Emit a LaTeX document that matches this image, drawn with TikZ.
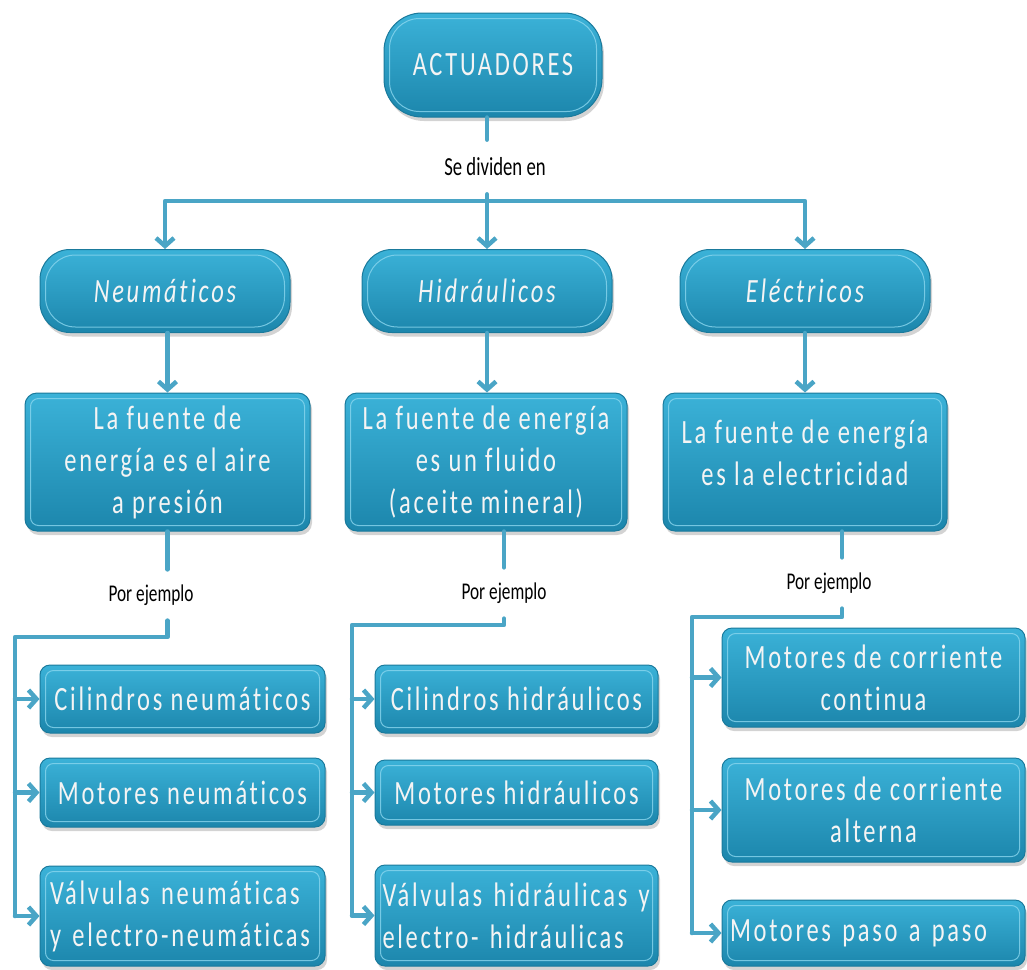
\documentclass[tikz,border=0pt]{standalone}
\usepackage{fontspec}
\setmainfont{Carlito}
\newfontfamily\boxfont[FakeStretch=0.72, LetterSpace=8, Ligatures={NoCommon}]{Carlito}
\newfontfamily\labfont[FakeStretch=0.72, Ligatures={NoCommon}]{Carlito}
\usetikzlibrary{positioning, shadows, arrows.meta}

\definecolor{boxtop}{HTML}{3BB2D8}
\definecolor{boxbot}{HTML}{1C86AC}
\definecolor{boxedge}{HTML}{1A7A9C}
\definecolor{gloss}{HTML}{8AD6EE}
\definecolor{link}{HTML}{4AA5C6}
\definecolor{boxtext}{HTML}{F4F4F4}

\tikzset{
  basebox/.style={draw=boxedge, line width=1pt, top color=boxtop, bottom color=boxbot,
    text=boxtext, align=center, inner sep=0pt,
    drop shadow={shadow xshift=2pt, shadow yshift=-4pt, opacity=.35}},
  capsule/.style={basebox, rounded corners=38pt, font=\boxfont\fontsize{34}{42}\selectfont},
  catbox/.style={basebox, rounded corners=30pt, minimum width=250pt, minimum height=83pt,
    font=\boxfont\itshape\fontsize{34}{42}\selectfont},
  srcbox/.style={basebox, rounded corners=12pt, minimum height=138pt,
    font=\boxfont\fontsize{34}{42}\selectfont},
  itembox/.style={basebox, rounded corners=10pt, font=\boxfont\fontsize{34}{42}\selectfont},
  leftitem/.style={itembox, align=left},
  plab/.style={font=\labfont\fontsize{24}{28}\selectfont, inner xsep=2pt, inner ysep=15pt},
  link/.style={draw=link, line width=4.5pt, line join=round, line cap=round},
  arr/.style={link, -{Straight Barb[length=8pt, width=18pt]}},
  glossy/.style={draw=gloss, line width=1pt, opacity=.8}
}

\begin{document}
\begin{tikzpicture}[x=1pt, y=-1pt]
    \useasboundingbox (0,0) rectangle (1027,969);

    % Root
    \node[capsule, minimum width=218pt, minimum height=104pt] (act) at (493,65) {ACTUADORES};
    \node[plab, font=\labfont\fontsize{26}{30}\selectfont, inner ysep=18pt] (div) at (495,167) {Se dividen en};

    % Kinds of actuator
    \node[catbox] (neu) at (165,291) {Neumáticos};
    \node[catbox] (hid) at (487,291) {Hidráulicos};
    \node[catbox] (ele) at (805,291) {Eléctricos};

    % Energy source
    \node[srcbox, minimum width=285pt] (fn1) at (167.5,462) {La fuente de\\energía es el aire\\a presión};
    \node[srcbox, minimum width=282pt] (fn2) at (486,462) {La fuente de energía\\es un fluido\\(aceite mineral)};
    \node[srcbox, minimum width=284pt] (fn3) at (805,462) {La fuente de energía\\es la electricidad\\[-24pt]};

    \node[plab] (ej1) at (151,595) {Por ejemplo};
    \node[plab] (ej2) at (504,593) {Por ejemplo};
    \node[plab] (ej3) at (829,583) {Por ejemplo};

    % Examples, pneumatic
    \node[itembox, minimum width=285pt, minimum height=68pt] (cn) at (182.5,699) {Cilindros neumáticos};
    \node[itembox, minimum width=285pt, minimum height=69pt] (mn) at (182.5,792.5) {Motores neumáticos};
    \node[leftitem, minimum width=285pt, text width=265pt, minimum height=100pt] (vn) at (182.5,916) {Válvulas neumáticas\\y electro-neumáticas};

    % Examples, hydraulic
    \node[itembox, minimum width=283pt, minimum height=68pt] (ch) at (516.5,699) {Cilindros hidráulicos};
    \node[itembox, minimum width=283pt, minimum height=65pt] (mh) at (516.5,792.5) {Motores hidráulicos};
    \node[leftitem, minimum width=283pt, text width=268pt, minimum height=101pt] (vh) at (516.5,915.5) {Válvulas hidráulicas~y\\electro- hidráulicas};

    % Examples, electric
    \node[itembox, minimum width=303pt, minimum height=99pt] (mc) at (873.5,677.5) {Motores de corriente\\continua};
    \node[itembox, minimum width=303pt, minimum height=104pt] (ma) at (873.5,810) {Motores de corriente\\alterna};
    \node[leftitem, minimum width=303pt, text width=287pt, minimum height=66pt] (mp) at (873.5,933) {Motores paso a paso};

    % Inner highlight
    \foreach \n in {act,neu,hid,ele}
        \draw[glossy, rounded corners=30pt] ([shift={(6pt,-6pt)}]\n.north west) rectangle ([shift={(-6pt,6pt)}]\n.south east);
    \foreach \n in {fn1,fn2,fn3,cn,mn,vn,ch,mh,vh,mc,ma,mp}
        \draw[glossy, rounded corners=8pt] ([shift={(6pt,-6pt)}]\n.north west) rectangle ([shift={(-6pt,6pt)}]\n.south east);

    % Top split
    \coordinate (bar) at (487,201);
    \draw[link] (hid |- act.south) -- (hid |- div.north);
    \draw[arr] (hid |- div.south) -- (hid.north);
    \draw[arr] (bar) -| (neu.north);
    \draw[arr] (bar) -| (ele.north);

    % Kind to source
    \draw[arr] (neu.south -| fn1) -- (fn1.north);
    \draw[arr] (hid.south) -- (hid.south |- fn2.north);
    \draw[arr] (ele.south) -- (fn3.north);

    % Pneumatic branch
    \coordinate (t1) at (15,637);
    \draw[link] (fn1.south) -- (fn1.south |- ej1.north);
    \draw[link] (fn1.south |- ej1.south) |- (t1) -- (t1 |- vn.west);
    \foreach \n in {cn,mn,vn}
        \draw[arr] (t1 |- \n.west) -- (\n.west);

    % Hydraulic branch
    \coordinate (t2) at (352,625);
    \draw[link] (ej2 |- fn2.south) -- (ej2.north);
    \draw[link] (ej2.south) |- (t2) -- (t2 |- vh.west);
    \foreach \n in {ch,mh,vh}
        \draw[arr] (t2 |- \n.west) -- (\n.west);

    % Electric branch
    \coordinate (s3) at (842,617);
    \coordinate (t3) at (692,617);
    \draw[link] (s3 |- fn3.south) -- (s3 |- ej3.north);
    \draw[link] (s3 |- ej3.south) -- (s3) -- (t3) -- (t3 |- mp.west);
    \foreach \n in {mc,ma,mp}
        \draw[arr] (t3 |- \n.west) -- (\n.west);
\end{tikzpicture}
\end{document}
